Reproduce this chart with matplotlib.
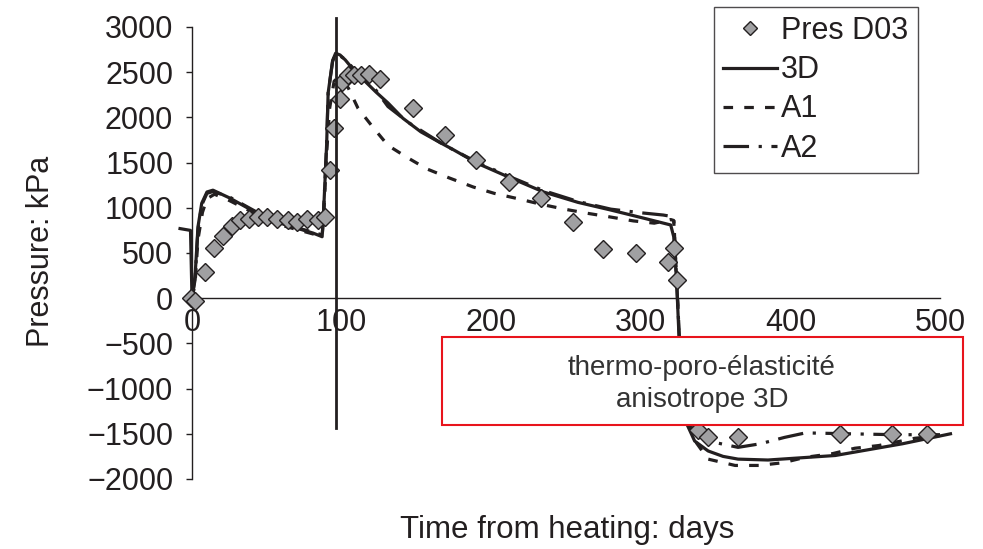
import matplotlib
matplotlib.use("Agg")
import matplotlib.pyplot as plt
from matplotlib.patches import Rectangle

plt.rcParams['font.family'] = ['Liberation Sans', 'DejaVu Sans']

# measured pressure (diamonds)
pres_t = [-1, 2, 9, 15, 21, 27, 32, 38, 44, 50, 57, 64, 70, 77, 84, 89, 92, 95,
          99, 100, 104, 108, 113, 118, 126, 148, 169, 190, 212, 233, 255, 275,
          297, 318, 322, 324, 338, 345, 365, 433, 468, 491]
pres_p = [0, -30, 290, 560, 690, 800, 860, 875, 895, 895, 875, 865, 845, 875,
          865, 900, 1420, 1880, 2200, 2390, 2470, 2470, 2470, 2480, 2430, 2100,
          1800, 1530, 1290, 1110, 840, 540, 495, 400, 560, 200, -1460, -1540,
          -1540, -1500, -1500, -1500]

# model 3D (solid)
t_3d = [-8, -1, 0, 2, 4, 6.5, 10, 14, 25, 37, 48, 59, 70, 81, 87, 88, 90, 91,
        94, 96, 99, 102.5, 108, 115, 123, 131, 141, 153, 166, 175, 191, 213,
        235, 258, 280, 302, 320, 322, 324, 326, 328, 331, 336, 345, 355, 365,
        385, 430, 475, 507]
p_3d = [770, 750, 0, 230, 790, 1050, 1175, 1195, 1110, 1000, 900, 830, 775,
        720, 680, 970, 1700, 2270, 2630, 2710, 2690, 2635, 2525, 2410, 2280,
        2160, 1990, 1840, 1720, 1640, 1490, 1330, 1175, 1060, 975, 885, 810,
        680, 165, -600, -1100, -1400, -1580, -1690, -1750, -1780, -1790, -1740,
        -1610, -1500]

# model A1 (short dashes)
t_a1 = [0, 2, 4, 7, 10, 15, 25, 37, 48, 59, 70, 81, 87, 88, 90, 92, 95, 98,
        101, 104.5, 111, 121, 131, 144, 157, 172, 188, 202, 218, 233, 249, 264,
        279, 295, 309, 320, 322, 324, 326, 330, 335, 345, 363, 379, 395, 410,
        428, 443, 459, 483, 500]
p_a1 = [0, 150, 650, 950, 1100, 1150, 1080, 980, 880, 810, 760, 710, 690, 900,
        1600, 2100, 2400, 2450, 2400, 2325, 2100, 1890, 1690, 1555, 1430, 1330,
        1230, 1160, 1100, 1040, 985, 940, 900, 855, 830, 870, 860, 200, -500,
        -1200, -1550, -1780, -1850, -1850, -1820, -1760, -1720, -1660, -1630,
        -1550, -1520]

# model A2 (dash-dot)
t_a2 = [0, 2, 4, 6.5, 10, 14, 25, 37, 48, 59, 70, 81, 87, 88, 90, 91, 94, 96,
        99, 102.5, 108, 115, 123, 131, 145, 168, 191, 213, 235, 258, 280, 300,
        315, 322, 324, 326, 330, 336, 345, 365, 380, 396, 410, 440, 470, 500]
p_a2 = [0, 200, 760, 1030, 1160, 1180, 1120, 1010, 910, 840, 780, 730, 700,
        980, 1700, 2270, 2620, 2700, 2680, 2640, 2540, 2430, 2300, 2120, 1940,
        1700, 1500, 1340, 1190, 1070, 985, 945, 920, 900, 165, -500, -1100,
        -1450, -1580, -1650, -1610, -1540, -1490, -1500, -1510, -1510]

spike_t = [96, 96]
spike_p = [3100, -1440]

x_ticks = [0, 100, 200, 300, 400, 500]
y_ticks = list(range(-2000, 3001, 500))

ink = '#231f20'
W, H = 983, 549

fig = plt.figure(figsize=(W / 100, H / 100), dpi=100)
ax = fig.add_axes([192 / W, (H - 479) / H, 748 / W, 452 / H])

ax.plot(spike_t, spike_p, color=ink, lw=2, clip_on=False, zorder=5)
ax.plot(t_3d, p_3d, color=ink, lw=2.3, label='3D', clip_on=False, zorder=3)
ax.plot(t_a1, p_a1, color=ink, lw=2.3, ls=(0, (3, 3.5)), label='A1',
        clip_on=False, zorder=3)
ax.plot(t_a2, p_a2, color=ink, lw=2.3, ls=(0, (8, 3, 1, 3)), label='A2',
        clip_on=False, zorder=3)
ax.plot(pres_t, pres_p, ls='none', marker='D', ms=9.5, mfc='#a0a0a2',
        mec=ink, mew=1, label='Pres D03', clip_on=False, zorder=4)

ax.set_xlim(0, 500)
ax.set_ylim(-2000, 3000)
ax.set_xticks(x_ticks)
ax.set_yticks(y_ticks)
ax.set_yticklabels([str(v).replace('-', '\u2212') for v in y_ticks])
ax.spines['top'].set_visible(False)
ax.spines['right'].set_visible(False)
ax.spines['bottom'].set_position(('data', 0))
ax.spines['bottom'].set_linewidth(1)
ax.spines['left'].set_linewidth(1)
ax.spines['bottom'].set_color(ink)
ax.spines['left'].set_color(ink)
ax.tick_params(axis='y', direction='out', length=4.5, width=1, colors=ink,
               labelsize=22, pad=9)
ax.tick_params(axis='x', length=0, colors=ink, labelsize=22, pad=7)

fig.text(567 / W, 1 - 530 / H, 'Time from heating: days', fontsize=22.5,
         color=ink, ha='center', va='center')
fig.text(41 / W, 1 - 251 / H, 'Pressure: kPa', fontsize=22, color=ink,
         ha='center', va='center', rotation=90)

handles, labels = ax.get_legend_handles_labels()
order = [3, 0, 1, 2]
leg = fig.legend([handles[i] for i in order], [labels[i] for i in order],
                 loc='upper left', bbox_to_anchor=(714 / W, 1 - 7 / H),
                 fontsize=22, frameon=True, fancybox=False, borderpad=0.3,
                 labelspacing=0.3, handlelength=1.75, handletextpad=0.15,
                 markerscale=0.75, borderaxespad=0)
leg.get_frame().set_edgecolor(ink)
leg.get_frame().set_linewidth(1)
for t in leg.get_texts():
    t.set_color(ink)

box = Rectangle((442 / W, 1 - 425 / H), (963 - 442) / W, (425 - 337) / H,
                transform=fig.transFigure, facecolor='white',
                edgecolor='#e8141c', lw=1.5, zorder=10)
fig.patches.append(box)
fig.text(702 / W, 1 - 384 / H, 'thermo-poro-élasticité\nanisotrope 3D',
         fontsize=20, color='#333333', ha='center', va='center',
         linespacing=1.3, zorder=11)

fig.savefig('out.png', dpi=100)
